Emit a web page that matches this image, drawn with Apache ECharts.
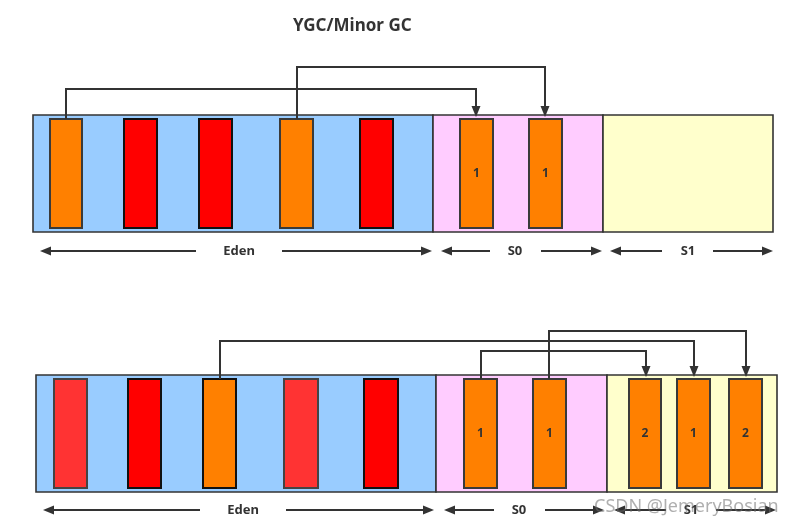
<!DOCTYPE html>
<html><head><meta charset="utf-8">
<script src="https://cdn.jsdelivr.net/npm/echarts@6/dist/echarts.min.js"></script>
<style>html,body{margin:0;padding:0;background:#fff}#c{width:800px;height:527px}</style>
</head><body><div id="c"></div>
<script>
const titleText = 'YGC/Minor GC';
const spaceNames = ['Eden', 'S0', 'S1'];
// memory spaces: [x0, y0, x1, y1, spaceIndex]
const spaces = [
  [33, 115, 433, 232, 0], [433, 115, 603, 232, 1], [603, 115, 773, 232, 2],
  [36, 375, 436, 492, 0], [436, 375, 607, 492, 1], [607, 375, 777, 492, 2]
];
// objects: [x0, y0, x1, y1, kind]  kind: 0 live(orange), 1 garbage(red), 2 garbage(light red), 3 live(dark edge)
const objects = [
  [50, 119, 82, 228, 0], [124, 119, 157, 228, 1], [199, 119, 232, 228, 1], [280, 119, 313, 228, 0], [360, 119, 393, 228, 1],
  [460, 119, 493, 228, 0], [529, 119, 562, 228, 0],
  [54, 379, 87, 488, 2], [128, 379, 161, 488, 1], [203, 379, 236, 488, 3], [284, 379, 318, 488, 2], [364, 379, 398, 488, 1],
  [464, 379, 497, 488, 0], [533, 379, 566, 488, 0],
  [629, 379, 661, 488, 0], [677, 379, 710, 488, 0], [729, 379, 762, 488, 0]
];
const objectAges = ['', '', '', '', '', '1', '1', '', '', '', '', '', '1', '1', '2', '1', '2'];
// copy arrows: [fromX, toX, levelY, blockTopY]
const copies = [
  [66, 476, 89, 119], [297, 545, 67, 119],
  [220, 694, 341, 379], [481, 646, 351, 379], [549, 746, 331, 379]
];
// size markers: [outerLeft, leftEnd, rightStart, outerRight, y, textX, nameIndex]
const dims = [
  [40, 196, 282, 432, 251, 239, 0], [441, 490, 541, 602, 251, 515, 1], [610, 662, 713, 773, 251, 688, 2],
  [43, 200, 286, 434, 510, 243, 0], [444, 494, 545, 604, 510, 519, 1], [614, 666, 716, 776, 510, 691, 2]
];

const spaceColors = ['#99ccff', '#ffccff', '#ffffcc'];
const objFill = ['#ff8000', '#ff0000', '#ff3333', '#ff8000'];
const objStroke = ['#3a3a3a', '#111', '#444', '#111'];
const FONT = '"Noto Sans", "DejaVu Sans", sans-serif';
const ink = '#333';

const chart = echarts.init(document.getElementById('c'), null, {renderer: 'canvas'});

function rectOf(api) {
  const p0 = api.coord([api.value(0), api.value(1)]);
  const p1 = api.coord([api.value(2), api.value(3)]);
  return {x: p0[0], y: p0[1], width: p1[0] - p0[0], height: p1[1] - p0[1]};
}

chart.setOption({
  animation: false,
  backgroundColor: '#fff',
  title: {text: titleText, left: 288, top: 13, textStyle: {fontFamily: FONT, fontSize: 17, fontWeight: 'bold', color: ink}},
  grid: {left: 0, right: 0, top: 0, bottom: 0},
  xAxis: {type: 'value', min: 0, max: 800, show: false},
  yAxis: {type: 'value', min: 0, max: 527, inverse: true, show: false},
  graphic: [{
    type: 'text', left: 594, top: 498, z: 100,
    style: {text: 'CSDN @JemeryBosian', fill: 'rgba(110,110,110,0.55)', font: '18px ' + FONT}
  }],
  series: [
    {
      type: 'custom', clip: false, z: 1, data: spaces,
      renderItem: function (params, api) {
        return {type: 'rect', shape: rectOf(api),
          style: {fill: spaceColors[api.value(4)], stroke: '#333', lineWidth: 1.6}};
      }
    },
    {
      type: 'custom', clip: false, z: 2, data: objects,
      renderItem: function (params, api) {
        const k = api.value(4);
        return {type: 'rect', shape: rectOf(api),
          style: {fill: objFill[k], stroke: objStroke[k], lineWidth: 2},
          textContent: {style: {text: objectAges[params.dataIndex], fill: ink, font: 'bold 12px ' + FONT}},
          textConfig: {position: 'inside'}};
      }
    },
    {
      type: 'custom', clip: false, z: 3, data: copies,
      renderItem: function (params, api) {
        const fx = api.value(0), tx = api.value(1), ly = api.value(2), by = api.value(3);
        const a = api.coord([fx, by]), b = api.coord([fx, ly]), c = api.coord([tx, ly]), d = api.coord([tx, by - 2]);
        return {type: 'group', children: [
          {type: 'polyline', shape: {points: [a, b, c, [d[0], d[1] - 9]]}, style: {stroke: ink, lineWidth: 2, fill: null}},
          {type: 'polygon', shape: {points: [[d[0] - 4.5, d[1] - 11], [d[0] + 4.5, d[1] - 11], d]}, style: {fill: ink}}
        ]};
      }
    },
    {
      type: 'custom', clip: false, z: 3, data: dims,
      renderItem: function (params, api) {
        const y = api.value(4);
        const L = api.coord([api.value(0), y]), le = api.coord([api.value(1), y]);
        const rs = api.coord([api.value(2), y]), R = api.coord([api.value(3), y]);
        const t = api.coord([api.value(5), y]);
        return {type: 'group', children: [
          {type: 'line', shape: {x1: L[0] + 9, y1: L[1], x2: le[0], y2: le[1]}, style: {stroke: ink, lineWidth: 2}},
          {type: 'polygon', shape: {points: [L, [L[0] + 11, L[1] - 4.5], [L[0] + 11, L[1] + 4.5]]}, style: {fill: ink}},
          {type: 'line', shape: {x1: rs[0], y1: rs[1], x2: R[0] - 9, y2: R[1]}, style: {stroke: ink, lineWidth: 2}},
          {type: 'polygon', shape: {points: [R, [R[0] - 11, R[1] - 4.5], [R[0] - 11, R[1] + 4.5]]}, style: {fill: ink}},
          {type: 'text', style: {x: t[0], y: t[1], text: spaceNames[api.value(6)], align: 'center', verticalAlign: 'middle',
            fill: ink, font: 'bold 13px ' + FONT}}
        ]};
      }
    }
  ]
});
</script>
</body></html>
